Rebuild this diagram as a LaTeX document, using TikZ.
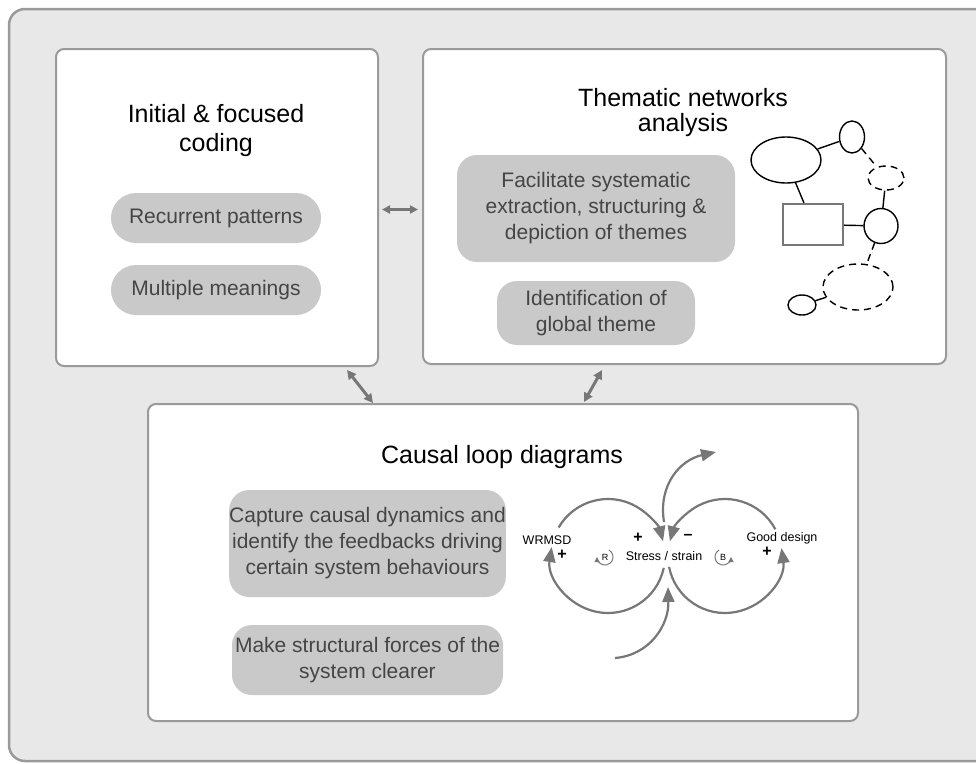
\documentclass[tikz,border=0pt]{standalone}
\usepackage{fontspec}
\setmainfont{Liberation Sans}
\usetikzlibrary{arrows.meta,shapes.geometric}

\definecolor{framegray}{HTML}{E8E8E8}
\definecolor{linegray}{HTML}{9A9A9A}
\definecolor{pillgray}{HTML}{C9C9C9}
\definecolor{pilltext}{HTML}{454545}
\definecolor{arrowgray}{HTML}{777777}

\tikzset{
  panel/.style={draw=linegray, line width=2pt, fill=white, rounded corners=8pt, anchor=north west, inner sep=0pt},
  pill/.style={fill=pillgray, text=pilltext, align=center, inner sep=0pt, font=\fontsize{21}{26}\selectfont},
  heading/.style={align=center, inner sep=0pt, font=\fontsize{25}{29}\selectfont},
  link/.style={arrowgray, line width=3pt, {Triangle[length=9pt,width=9pt]}-{Triangle[length=9pt,width=9pt]}},
  loop/.style={arrowgray, line width=2.2pt, -{Triangle[length=15pt,width=12pt]}},
  tiny/.style={inner sep=0pt, font=\fontsize{12.5}{14}\selectfont},
  sign/.style={inner sep=0pt, font=\bfseries\fontsize{16}{16}\selectfont},
  net/.style={draw=black, line width=1.4pt, inner sep=0pt},
  netdash/.style={net, dash pattern=on 7pt off 5pt},
}

\begin{document}
\begin{tikzpicture}[x=1pt, y=-1pt]

    \clip (0,0) rectangle (976,763);

    % outer frame
    \draw[draw=linegray, line width=2.5pt, fill=framegray, rounded corners=16pt] (9,9) rectangle (1000,761);

    % the three panels
    \node[panel, minimum width=322pt, minimum height=317pt] (coding) at (55,48) {};
    \node[panel, minimum width=523pt, minimum height=315pt] (thematic) at (422,48) {};
    \node[panel, minimum width=710pt, minimum height=317pt] (causal) at (147,403) {};

    % initial & focused coding
    \node[heading] (codingtitle) at (216,131) {Initial \& focused\\coding};
    \node[pill, minimum width=210pt, minimum height=50pt, rounded corners=25pt] (recur) at (216,218) {Recurrent patterns};
    \node[pill, minimum width=210pt, minimum height=50pt, rounded corners=25pt] (multi) at (216,290) {Multiple meanings};

    % thematic networks analysis
    \node[heading] (thematictitle) at (683,113) {Thematic networks\\[-4pt]analysis};
    \node[pill, minimum width=278pt, minimum height=107pt, rounded corners=20pt] (facil) at (596,208.5)
        {Facilitate systematic\\extraction, structuring \&\\depiction of themes};
    \node[pill, minimum width=198pt, minimum height=64pt, rounded corners=20pt] (ident) at (596,313)
        {Identification of\\global theme};

    % small network sketch
    \node[net, ellipse, minimum width=70pt, minimum height=46pt] (bigE) at (786,160) {};
    \node[net, ellipse, minimum width=25pt, minimum height=32pt] (topE) at (852,137) {};
    \node[netdash, ellipse, minimum width=36pt, minimum height=24pt] (dashE) at (886,178) {};
    \node[draw=arrowgray, line width=2.2pt, minimum width=60pt, minimum height=41pt] (box) at (813,224.5) {};
    \node[net, ellipse, minimum width=34pt, minimum height=35pt] (circ) at (881,226) {};
    \node[netdash, ellipse, minimum width=70pt, minimum height=46pt] (bigD) at (858,287) {};
    \node[net, ellipse, minimum width=28pt, minimum height=20pt] (smallE) at (802,305) {};
    \draw[net] (bigE) -- (topE);
    \draw[netdash] (topE) -- (dashE);
    \draw[net] (bigE) -- (box);
    \draw[net] (box) -- (circ);
    \draw[net] (dashE) -- (circ);
    \draw[netdash] (circ) -- (bigD);
    \draw[net] (bigD) -- (smallE);

    % causal loop diagrams
    \node[heading] (causaltitle) at (502,457) {Causal loop diagrams};
    \node[pill, minimum width=271pt, minimum height=107pt, rounded corners=20pt] (capture) at (367.5,543.5)
        {Capture causal dynamics and\\identify the feedbacks driving\\certain system behaviours};
    \node[pill, minimum width=271pt, minimum height=70pt, rounded corners=20pt] (forces) at (367.5,660)
        {Make structural forces of the\\system clearer};

    \node[tiny] (wrmsd) at (547,540) {WRMSD};
    \node[tiny] (stress) at (664,556) {Stress / strain};
    \node[tiny] (good) at (782,538) {Good design};
    \node[sign] (plusW) at (562,555) {+};
    \node[sign] (plusS) at (638,538) {+};
    \node[sign] (minusS) at (688,537) {--};
    \node[sign] (plusG) at (767,552) {+};
    \node[tiny, font=\fontsize{9}{9}\selectfont] (rsym) at (605,557) {R};
    \node[tiny, font=\fontsize{9}{9}\selectfont] (bsym) at (723,557) {B};

    \coordinate (Lc) at (608,556);
    \coordinate (Rc) at (725,556);
    \coordinate (outflow) at (716,452);
    \coordinate (inflow) at (615,658);

    \draw[loop] ([shift={(-150:57)}]Lc) arc[start angle=-150, end angle=-15, radius=57];
    \draw[loop] ([shift={(12:57)}]Lc) arc[start angle=12, end angle=189, radius=57];
    \draw[loop] ([shift={(-28:57)}]Rc) arc[start angle=-28, end angle=-165, radius=57];
    \draw[loop] ([shift={(-191:57)}]Rc) arc[start angle=-191, end angle=-368, radius=57];
    \draw[loop] (664,522) .. controls (658,485) and (680,460) .. (outflow);
    \draw[loop] (inflow) .. controls (650,655) and (669,625) .. (668,587);

    % loop markers
    \draw[arrowgray, line width=1pt, -{Triangle[length=5pt,width=5pt]}] ([shift={(-60:8)}]rsym.center) arc[start angle=-60, end angle=180, radius=8];
    \draw[arrowgray, line width=1pt, -{Triangle[length=5pt,width=5pt]}] ([shift={(-120:8)}]bsym.center) arc[start angle=-120, end angle=-360, radius=8];

    % links between panels
    \draw[link, line width=2.5pt, {Triangle[length=8pt,width=8pt]}-{Triangle[length=8pt,width=8pt]}]
        ([xshift=3pt, yshift=-2pt]coding.east) -- ([xshift=-4pt, yshift=-3pt]thematic.west);
    \draw[link] ([xshift=-32pt, yshift=-3pt]coding.south east) -- ([xshift=226pt]causal.north west);
    \draw[link] ([xshift=180pt, yshift=-5pt]thematic.south west) -- ([xshift=81pt, yshift=1pt]causal.north);

\end{tikzpicture}
\end{document}
